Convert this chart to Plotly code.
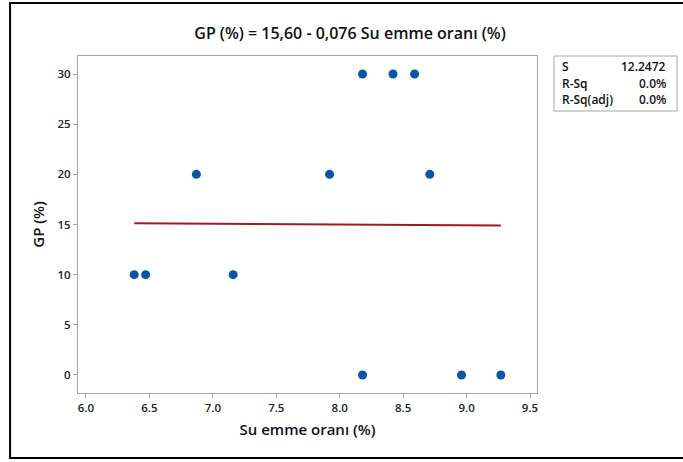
import plotly.graph_objects as go

# Data
su_emme = [6.38, 6.47, 6.87, 7.16, 7.92, 8.18, 8.18, 8.42, 8.59, 8.71, 8.96, 9.27]
gp = [10, 10, 20, 10, 20, 30, 0, 30, 30, 20, 0, 0]
intercept = 15.60
slope = -0.076
stats_labels = ["S", "R-Sq", "R-Sq(adj)"]
stats_values = ["12.2472", "0.0%", "0.0%"]
x_ticks = [6.0, 6.5, 7.0, 7.5, 8.0, 8.5, 9.0, 9.5]
y_ticks = [0, 5, 10, 15, 20, 25, 30]

FONT = "Open Sans"
fit_x = [min(su_emme), max(su_emme)]
fit_y = [intercept + slope * v for v in fit_x]

fig = go.Figure()
fig.add_trace(go.Scatter(x=su_emme, y=gp, mode="markers",
                         marker=dict(color="#0A55A5", size=9), showlegend=False))
fig.add_trace(go.Scatter(x=fit_x, y=fit_y, mode="lines",
                         line=dict(color="#A01A1E", width=2), showlegend=False))

axis_common = dict(showline=True, mirror=True, linecolor="#A6A6A6", linewidth=1,
                   ticks="outside", tickcolor="#A6A6A6", ticklen=4, showgrid=False,
                   zeroline=False, tickfont=dict(family=FONT, size=11.5, color="#222", weight=600))

fig.update_layout(
    width=683, height=462,
    margin=dict(l=78, r=146, t=56, b=69),
    paper_bgcolor="white", plot_bgcolor="white",
    title=dict(text="GP (%) = 15,60 - 0,076 Su emme oranı (%)", x=350/683, xanchor="center",
               y=1 - 33/462, yanchor="middle",
               font=dict(family=FONT, size=16, color="#111", weight=600)),
    xaxis=dict(range=[5.937, 9.555], tickvals=x_ticks, ticktext=[f"{v:.1f}" for v in x_ticks],
               title=dict(text="Su emme oranı (%)", standoff=10,
                          font=dict(family=FONT, size=15, color="#111", weight=600)),
               **axis_common),
    yaxis=dict(range=[-1.8, 31.8], tickvals=y_ticks,
               title=dict(text="GP (%)", standoff=9,
                          font=dict(family=FONT, size=15, color="#111", weight=600)),
               **axis_common),
)

# outer frame
fig.add_shape(type="rect", xref="paper", yref="paper", x0=-0.148, x1=1.45, y0=-0.193, y1=1.157,
              line=dict(color="black", width=2), layer="below")
# stats box
fig.add_shape(type="rect", xref="paper", yref="paper",
              x0=(554 - 78) / 459, x1=(677 - 78) / 459, y0=(393 - 111) / 337, y1=(393 - 56) / 337,
              line=dict(color="#A6A6A6", width=1))
row_y = [66, 83, 100]
for lab, val, py in zip(stats_labels, stats_values, row_y):
    yp = (393 - py) / 337
    fig.add_annotation(xref="paper", yref="paper", x=(560 - 78) / 459, y=yp, text=lab,
                       showarrow=False, xanchor="left", yanchor="middle",
                       font=dict(family=FONT, size=12, color="#111", weight=600))
    fig.add_annotation(xref="paper", yref="paper", x=(668 - 78) / 459, y=yp, text=val,
                       showarrow=False, xanchor="right", yanchor="middle",
                       font=dict(family=FONT, size=12, color="#111", weight=600))

fig.write_html("out.html")
